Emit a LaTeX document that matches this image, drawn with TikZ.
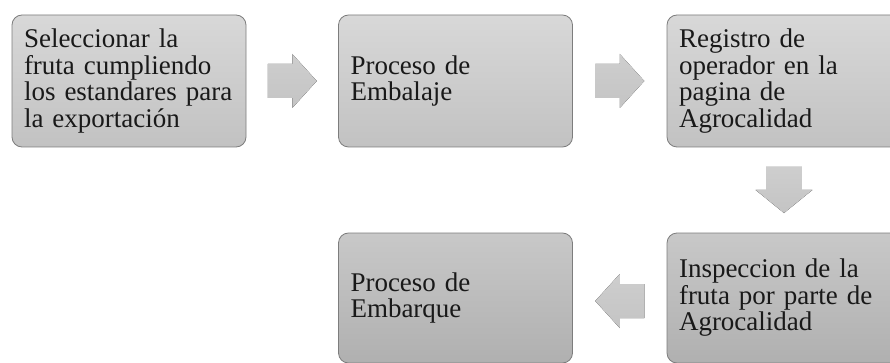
\documentclass[tikz,border=0pt]{standalone}
\usepackage{fontspec}
\setmainfont{Liberation Serif}
\usetikzlibrary{calc}
\definecolor{boxtopA}{RGB}{216,216,216}
\definecolor{boxbotA}{RGB}{194,194,194}
\definecolor{boxtopB}{RGB}{200,200,200}
\definecolor{boxbotB}{RGB}{176,176,176}
\definecolor{boxline}{RGB}{125,125,125}
\definecolor{arrowfill}{RGB}{206,206,206}
\definecolor{arrowfillB}{RGB}{196,196,196}
\tikzset{
  stepbox/.style={rectangle, rounded corners=10pt, draw=boxline, line width=0.8pt,
    minimum width=234pt, minimum height=132pt, text width=210pt, inner xsep=12pt,
    align=left, font=\fontsize{27}{26.5}\selectfont, text=black!90},
  toprow/.style={stepbox, top color=boxtopA, bottom color=boxbotA},
  botrow/.style={stepbox, minimum height=130pt, top color=boxtopB, bottom color=boxbotB},
  arrowshape/.style={top color=arrowfill, bottom color=arrowfillB, draw=none},
  pics/blockarrow/.style={code={
    \fill[arrowshape] (-24.5pt,-17pt) -- (0pt,-17pt) -- (0pt,-27pt) -- (24.5pt,0pt)
      -- (0pt,27pt) -- (0pt,17pt) -- (-24.5pt,17pt) -- cycle;
  }}
}
\begin{document}
\begin{tikzpicture}[x=1pt,y=-1pt]
\useasboundingbox (0,0) rectangle (890,363);
\clip (0,0) rectangle (890,363);
\fill[white] (0,0) rectangle (890,363);
\node[toprow] (b1) at (129,81) {Seleccionar la\\fruta cumpliendo\\\mbox{los estandares para}\\la exportación};
\node[toprow] (b2) at (455.5,81) {Proceso de\\Embalaje};
\node[toprow] (b3) at (784,81) {Registro de\\operador en la\\pagina de\\Agrocalidad};
\node[botrow] (b4) at (784,298) {Inspeccion de la\\\mbox{fruta por parte de}\\Agrocalidad};
\node[botrow] (b5) at (455.5,298) {Proceso de\\Embarque};
\coordinate (m1) at ($(b1.east)!0.5!(b2.west)$);
\coordinate (m2) at ($(b2.east)!0.5!(b3.west)$);
\coordinate (m3) at ($(b3.south)!0.5!(b4.north)$);
\coordinate (m4) at ($(b4.west)!0.5!(b5.east)+(0,3)$);
\pic at (m1) {blockarrow};
\pic at (m2) {blockarrow};
\pic[rotate=-90, yscale=1.05, xscale=0.94] at (m3) {blockarrow};
\pic[rotate=180] at (m4) {blockarrow};
\end{tikzpicture}
\end{document}
